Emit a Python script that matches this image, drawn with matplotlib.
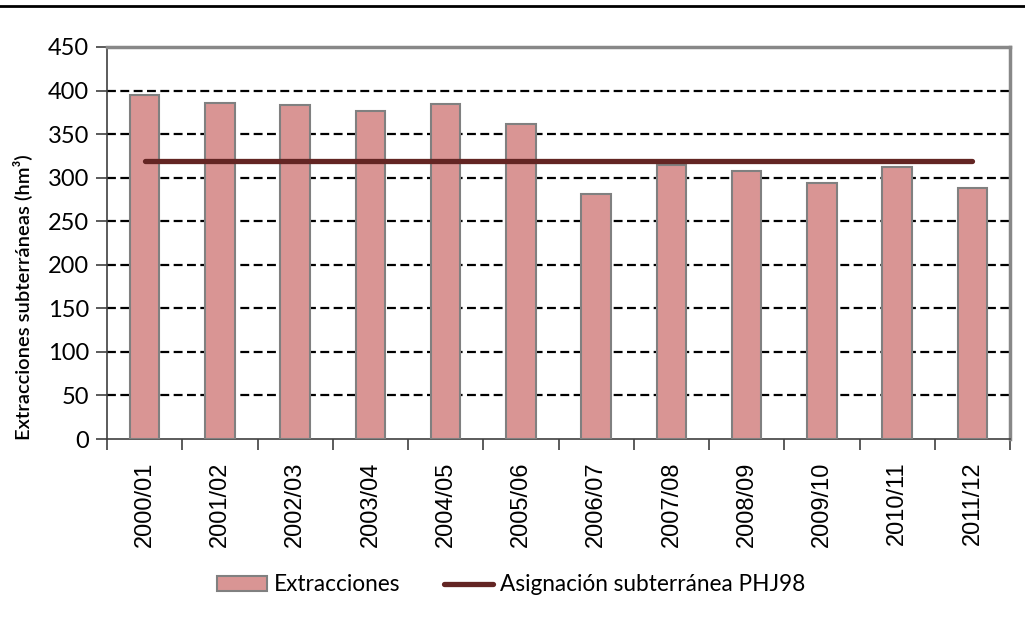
import matplotlib.pyplot as plt
import numpy as np

periodos = ['2000/01', '2001/02', '2002/03', '2003/04', '2004/05', '2005/06',
            '2006/07', '2007/08', '2008/09', '2009/10', '2010/11', '2011/12']
extracciones = [395, 386, 383, 377, 385, 362, 281, 315, 308, 294, 312, 288]
asignacion = [319] * len(periodos)
yticks = [0, 50, 100, 150, 200, 250, 300, 350, 400, 450]

plt.rcParams['font.family'] = ['Lato', 'DejaVu Sans']

fig = plt.figure(figsize=(10.25, 6.23), dpi=100)
ax = fig.add_axes([0.1044, 0.2953, 0.8810, 0.6293])

x = np.arange(len(periodos))
barras = ax.bar(x, extracciones, width=0.39, color='#D99594', edgecolor='#808080',
                linewidth=1.5, label='Extracciones', zorder=3)
linea, = ax.plot(x, asignacion, color='#632523', linewidth=3.8, solid_capstyle='round',
                 label='Asignación subterránea PHJ98', zorder=4)

ax.set_ylim(0, 450)
ax.set_xlim(-0.5, len(periodos) - 0.5)
ax.set_yticks(yticks)
ax.set_yticklabels([str(v) for v in yticks], fontsize=17)
for v in yticks[1:-1]:
    ax.axhline(v, color='black', linestyle=(0, (4, 2)), linewidth=1.6, zorder=2)

ax.set_xticks(x)
ax.set_xticklabels(periodos, rotation=90, fontsize=17, family='Liberation Sans')
ax.set_xticks(np.arange(-0.5, len(periodos)), minor=True)
ax.tick_params(axis='x', which='major', length=0, pad=16)
ax.tick_params(axis='x', which='minor', length=8, width=1.2, color='#404040')
ax.tick_params(axis='y', length=8, width=1.2, color='#404040', pad=5)

ax.spines['left'].set_color('#404040')
ax.spines['bottom'].set_color('#404040')
ax.spines['left'].set_linewidth(1.2)
ax.spines['bottom'].set_linewidth(1.2)
ax.spines['top'].set_color('#888888')
ax.spines['right'].set_color('#888888')
ax.spines['top'].set_linewidth(2.5)
ax.spines['right'].set_linewidth(2.5)

# etiqueta del eje Y colocada a mano (en el original queda mas baja)
fig.text(0.0215, 0.523, 'Extracciones subterráneas (hm³)', rotation=90,
         fontsize=14.5, fontweight='semibold', ha='center', va='center')

fig.legend([barras, linea], ['Extracciones', 'Asignación subterránea PHJ98'],
           loc='center', bbox_to_anchor=(0.499, 0.061), ncol=2, frameon=False,
           fontsize=16.3, handlelength=2.2, handletextpad=0.3, columnspacing=1.9)

fig.add_artist(plt.Line2D([0, 1], [0.990, 0.990], color='black', linewidth=2,
                          transform=fig.transFigure))

fig.savefig('out.png', dpi=100)
